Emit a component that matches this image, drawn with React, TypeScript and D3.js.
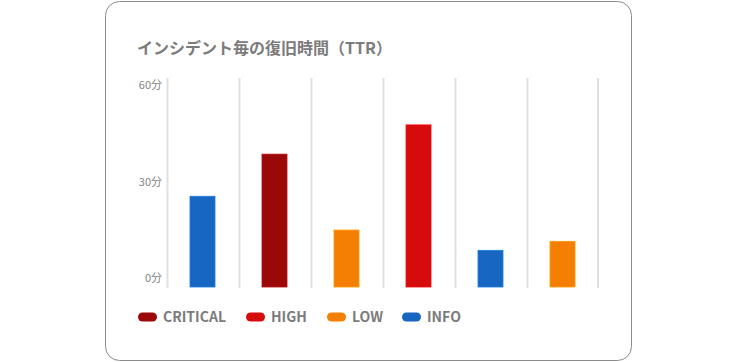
import React, { useEffect, useRef } from "react";
import * as d3 from "d3";

const title = "インシデント毎の復旧時間（TTR）";
const categories = ["A", "B", "C", "D", "E", "F"];
const severities = ["INFO", "CRITICAL", "LOW", "HIGH", "INFO", "LOW"];
const ttrMinutes = [28.2, 41.3, 17.7, 50.4, 11.4, 14.2];
const yTicks = [0, 30, 60];
const legendKeys = ["CRITICAL", "HIGH", "LOW", "INFO"];
const severityColors: Record<string, string> = {
  CRITICAL: "#9b0808",
  HIGH: "#d60b0b",
  LOW: "#f57f03",
  INFO: "#1666c2",
};

const FONT = "'Noto Sans CJK JP', 'Noto Sans', sans-serif";

const App = () => {
  const ref = useRef<SVGSVGElement | null>(null);

  useEffect(() => {
    const svg = d3.select(ref.current);
    svg.selectAll("*").remove();

    // card
    svg
      .append("rect")
      .attr("x", 105.5)
      .attr("y", 1.5)
      .attr("width", 526)
      .attr("height", 359)
      .attr("rx", 14)
      .attr("fill", "#fff")
      .attr("stroke", "#8a8a8a")
      .attr("stroke-width", 1);

    svg
      .append("text")
      .attr("x", 137)
      .attr("y", 54)
      .attr("font-family", FONT)
      .attr("font-size", 16)
      .attr("font-weight", 700)
      .attr("fill", "#7b7b7b")
      .text(title);

    const x = d3.scaleBand().domain(categories).range([167, 599]);
    const y = d3.scaleLinear().domain([0, 60]).range([287, 94]);

    // vertical grid lines
    const gridX = categories.map((c) => x(c) as number).concat([x.range()[1] - 1.5]);
    svg
      .append("g")
      .selectAll("line")
      .data(gridX)
      .enter()
      .append("line")
      .attr("x1", (d) => d + 0.5)
      .attr("x2", (d) => d + 0.5)
      .attr("y1", 78)
      .attr("y2", 288)
      .attr("stroke", "#e0e0e0")
      .attr("stroke-width", 2);

    // y labels
    svg
      .append("g")
      .selectAll("text")
      .data(yTicks)
      .enter()
      .append("text")
      .attr("x", 162)
      .attr("y", (d) => y(d) - 5)
      .attr("text-anchor", "end")
      .attr("font-family", FONT)
      .attr("font-size", 11)
      .attr("fill", "#858585")
      .text((d) => `${d}分`);

    // bars
    const barW = 25;
    svg
      .append("g")
      .selectAll("rect")
      .data(ttrMinutes)
      .enter()
      .append("rect")
      .attr("x", (d, i) => (x(categories[i]) as number) + x.bandwidth() / 2 - barW / 2 - 0.5)
      .attr("y", (d) => y(d))
      .attr("width", barW)
      .attr("height", (d) => y(0) - y(d))
      .attr("fill", (d, i) => severityColors[severities[i]])
      .attr("stroke", (d, i) => d3.color(severityColors[severities[i]])!.brighter(0.5).toString())
      .attr("stroke-width", 0.8);

    // legend
    const legendX = [138, 246, 327, 402];
    const lg = svg
      .append("g")
      .selectAll("g")
      .data(legendKeys)
      .enter()
      .append("g")
      .attr("transform", (d, i) => `translate(${legendX[i]}, 317)`);
    lg.append("rect")
      .attr("x", 0)
      .attr("y", -4.5)
      .attr("width", 19)
      .attr("height", 9)
      .attr("rx", 4.5)
      .attr("fill", (d) => severityColors[d]);
    lg.append("text")
      .attr("x", 25)
      .attr("y", 5)
      .attr("font-family", FONT)
      .attr("font-size", 14)
      .attr("font-weight", 600)
      .attr("fill", "#7b7b7b")
      .text((d) => d);
  }, []);

  return (
    <svg
      ref={ref}
      width={738}
      height={362}
      style={{ position: "absolute", left: 0, top: 0 }}
    ></svg>
  );
};

export default App;
